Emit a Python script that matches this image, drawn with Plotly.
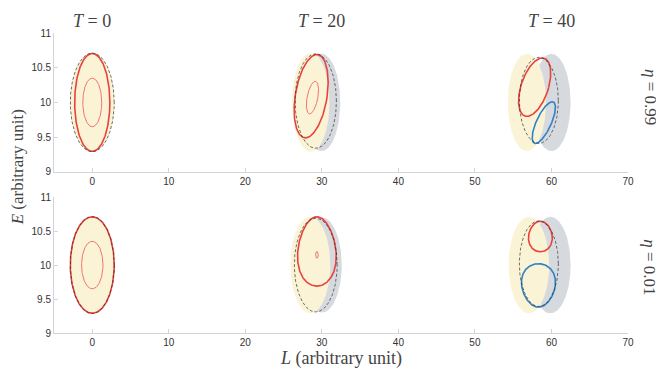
import numpy as np
import plotly.graph_objects as go

# snapshot labels and positions
T_labels = ["0", "20", "40"]
T_pos = [0, 30, 60]
eta_labels = ["0.99", "0.01"]

x_ticks = [0, 10, 20, 30, 40, 50, 60, 70]
y_ticks = [9, 9.5, 10, 10.5, 11]
y_ticktext = ["9", "9.5", "10", "10.5", "11"]

# ellipses: (L centre, E centre, half-width in L, half-height in E, shear, taper)
# row 1: eta = 0.99
gray_1 = [(0, 10, 2.87, 0.71), (29.95, 10, 2.45, 0.7), (60.0, 10, 2.5, 0.7)]
yellow_1 = [(0, 10, 2.87, 0.71), (28.55, 10, 2.45, 0.71), (56.8, 10, 2.5, 0.7)]
dashed_1 = [(0, 10, 2.87, 0.71), (29.2, 10.02, 2.7, 0.68), (58.35, 10.03, 2.55, 0.62)]
red_1 = [(0, 10, 2.3, 0.705, 0, 0), (28.6, 10.09, 2.09, 0.6, 1.25, 0),
         (57.8, 10.22, 1.85, 0.42, 2.38, 0)]
red_inner_1 = [(0, 10, 1.24, 0.35, 0, 0), (28.77, 10.07, 0.71, 0.235, 1.57, 0)]
blue_1 = [(59.0, 9.71, 1.05, 0.3, 3.67, 0)]

# row 2: eta = 0.01
gray_2 = [(0, 10, 2.87, 0.71), (30.0, 10, 2.6, 0.7), (59.85, 10, 2.65, 0.71)]
yellow_2 = [(0, 10, 2.87, 0.71), (28.5, 10, 2.6, 0.71), (57.05, 10, 2.65, 0.71)]
dashed_2 = [(0, 10, 2.87, 0.71), (29.2, 10, 2.8, 0.69), (58.35, 10.02, 2.55, 0.63)]
red_2 = [(0, 10, 2.87, 0.71, 0, 0), (29.35, 10.2, 2.5, 0.51, 0, -0.15),
         (58.55, 10.42, 1.55, 0.225, 0, -0.1)]
red_inner_2 = [(0, 10, 1.4, 0.35, 0, 0), (29.35, 10.15, 0.17, 0.05, 0, 0)]
blue_2 = [(58.3, 9.70, 2.2, 0.32, 0, 0.15)]

YELLOW = "#fbf3d5"
GRAY = "#d6d9dd"
RED = "#e8423b"
RED_LIGHT = "#f27373"
BLUE = "#2e83c6"


def ring(cx, cy, a, b, shear=0.0, taper=0.0, n=240):
    t = np.linspace(0, 2 * np.pi, n)
    e = cy + b * np.sin(t)
    l = cx + a * np.cos(t) * (1 + taper * np.sin(t)) + shear * (e - cy)
    return l, e


fig = go.Figure()

rows = [
    (gray_1, yellow_1, dashed_1, red_1, red_inner_1, blue_1),
    (gray_2, yellow_2, dashed_2, red_2, red_inner_2, blue_2),
]

for r, (gray, yellow, dashed, red, red_inner, blue) in enumerate(rows):
    xa = "x" if r == 0 else "x2"
    ya = "y" if r == 0 else "y2"
    for fills, colour in ((gray, GRAY), (yellow, YELLOW)):
        for p in fills:
            l, e = ring(*p)
            fig.add_trace(go.Scatter(x=l, y=e, mode="lines", fill="toself",
                                     fillcolor=colour, line=dict(width=0),
                                     xaxis=xa, yaxis=ya, hoverinfo="skip"))
    for p in red:
        l, e = ring(*p)
        fig.add_trace(go.Scatter(x=l, y=e, mode="lines", line=dict(color=RED, width=1.6),
                                 xaxis=xa, yaxis=ya))
    for p in red_inner:
        l, e = ring(*p)
        fig.add_trace(go.Scatter(x=l, y=e, mode="lines", line=dict(color=RED_LIGHT, width=1),
                                 xaxis=xa, yaxis=ya))
    for p in blue:
        l, e = ring(*p)
        fig.add_trace(go.Scatter(x=l, y=e, mode="lines", line=dict(color=BLUE, width=1.6),
                                 xaxis=xa, yaxis=ya))
    for p in dashed:
        l, e = ring(*p)
        fig.add_trace(go.Scatter(x=l, y=e, mode="lines",
                                 line=dict(color="#333333", width=0.7, dash="3px,2px"),
                                 xaxis=xa, yaxis=ya))

axis_common = dict(showline=True, linecolor="#d4d4d4", linewidth=1, ticks="inside",
                   ticklen=4, tickcolor="#d4d4d4", showgrid=False, zeroline=False,
                   tickfont=dict(family="Liberation Sans, Arial", size=10, color="#333333"))

# page body has an 8px margin, so the figure is a little smaller than the window
fig.update_layout(
    width=656, height=365,
    margin=dict(l=46, r=36, t=25, b=40),
    plot_bgcolor="white", paper_bgcolor="white",
    showlegend=False,
    xaxis=dict(domain=[0, 1], anchor="y", range=[-5, 70], tickvals=x_ticks, **axis_common),
    yaxis=dict(domain=[0.537, 1], anchor="x", range=[9, 11], tickvals=y_ticks,
               ticktext=y_ticktext, **axis_common),
    xaxis2=dict(domain=[0, 1], anchor="y2", range=[-5, 70], tickvals=x_ticks, **axis_common),
    yaxis2=dict(domain=[0, 0.453], anchor="x2", range=[9, 11], tickvals=y_ticks,
                ticktext=y_ticktext, **axis_common),
)

serif = dict(family="Liberation Serif, Times New Roman, serif", size=18, color="#444444")
serif_side = dict(serif, size=17)

for lab, pos in zip(T_labels, T_pos):
    fig.add_annotation(text=f"<i>T</i> = {lab}", x=pos, xref="x", y=1.04, yref="paper",
                       showarrow=False, font=serif, xanchor="center", yanchor="middle")

for lab, yp in zip(eta_labels, [0.787, 0.22]):
    fig.add_annotation(text=f"<i>η</i> = {lab}", x=1.038, xref="paper", y=yp, yref="paper",
                       showarrow=False, font=serif_side, textangle=90,
                       xanchor="center", yanchor="middle")

fig.add_annotation(text="<i>E</i> (arbitrary unit)", x=-0.064, xref="paper", y=0.553,
                   yref="paper", showarrow=False, font=serif_side, textangle=-90,
                   xanchor="center", yanchor="middle")
fig.add_annotation(text="<i>L</i> (arbitrary unit)", x=0.5, xref="paper", y=-0.085,
                   yref="paper", showarrow=False, font=serif,
                   xanchor="center", yanchor="middle")

fig.write_html("out.html")
